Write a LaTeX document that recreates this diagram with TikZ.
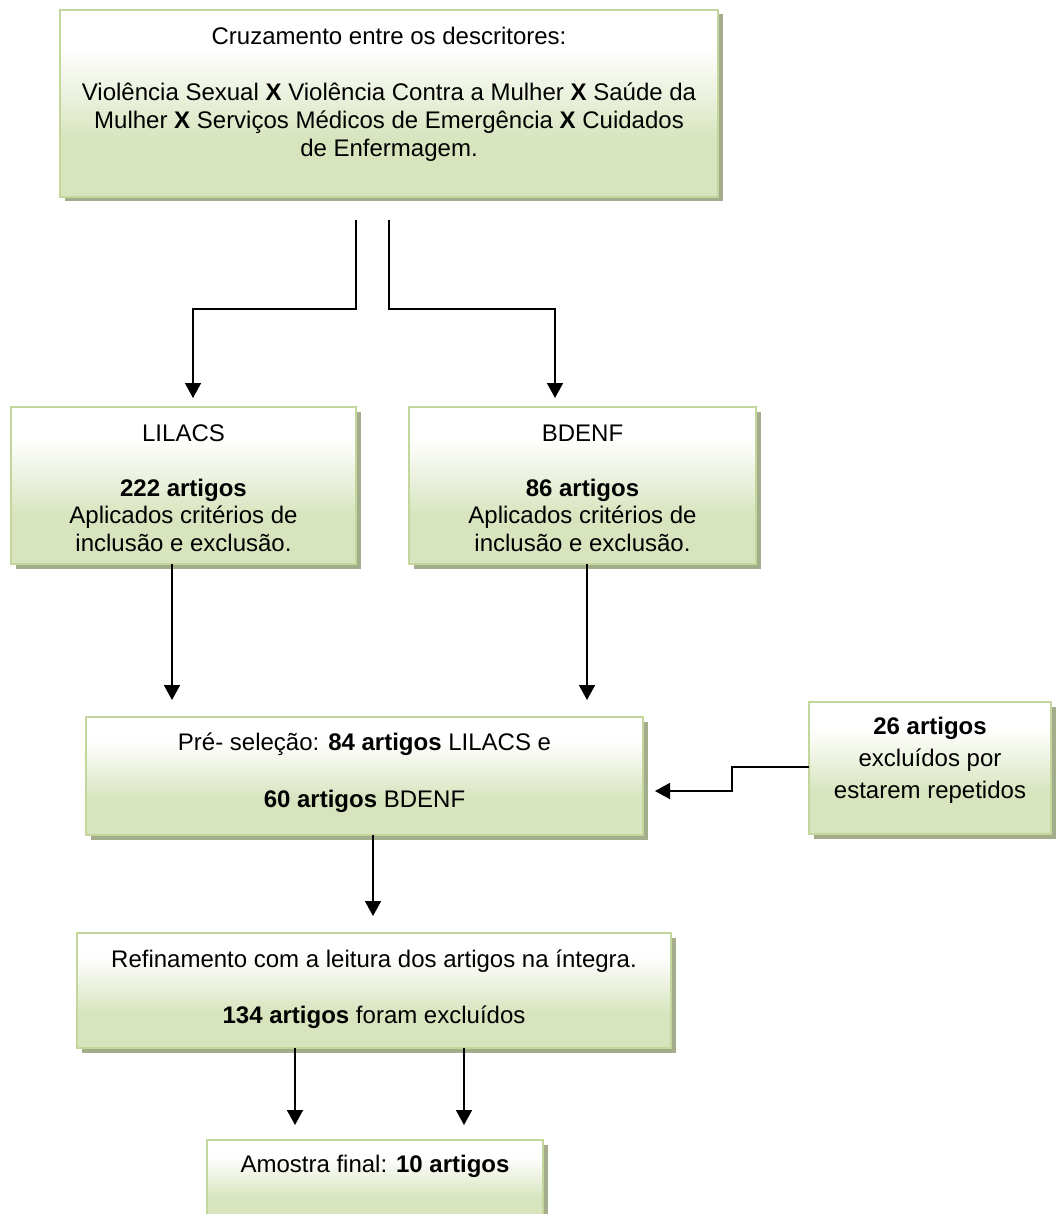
\documentclass[tikz,border=0pt]{standalone}
\usepackage{fontspec}
\setmainfont{Liberation Sans}
\usetikzlibrary{arrows.meta,shadows}
\definecolor{bordc}{HTML}{C3D69B}
\definecolor{fillc}{HTML}{D7E4BD}
\definecolor{shadc}{HTML}{A3AC8B}
\pgfdeclareverticalshading{boxshade}{100bp}{color(0bp)=(fillc); color(40bp)=(fillc); color(65bp)=(white); color(100bp)=(white)}
\tikzset{
  box/.style={draw=bordc, line width=2pt, shade, shading=boxshade,
    drop shadow={shadow xshift=5pt, shadow yshift=-4.5pt, fill=shadc, opacity=1},
    inner sep=0pt, outer sep=0pt, anchor=north west},
  txt/.style={font=\fontsize{24}{27.6}\selectfont, align=center, anchor=base, inner sep=0pt},
  arr/.style={line width=1.6pt, -{Triangle[width=16pt,length=15pt]}}
}
\begin{document}
\begin{tikzpicture}[x=1pt,y=-1pt]
\useasboundingbox (0,0) rectangle (1056,1214);
\clip (0,0) rectangle (1056,1214);
% boxes
\node[box, minimum width=658pt, minimum height=187pt] (top) at (60,10) {};
\node[box, minimum width=345pt, minimum height=157pt] (lil) at (11,407) {};
\node[box, minimum width=347pt, minimum height=157pt] (bd) at (409,407) {};
\node[box, minimum width=557pt, minimum height=118pt] (pre) at (86,717) {};
\node[box, minimum width=242pt, minimum height=132pt] (ex) at (809,702) {};
\node[box, minimum width=594pt, minimum height=115pt] (ref) at (77,933) {};
\node[box, minimum width=336pt, minimum height=84pt] (fin) at (207,1140) {};
% texts (anchored at the baseline of their last line)
\node[txt] (topT) at (389,156.2) {Cruzamento entre os descritores:\\[28.4pt]
  Violência Sexual \textbf{X} Violência Contra a Mulher \textbf{X} Saúde da\\
  Mulher \textbf{X} Serviços Médicos de Emergência \textbf{X} Cuidados\\
  de Enfermagem.};
\node[txt] (lilT) at (183.5,551.2) {LILACS\\[27.4pt] \textbf{222 artigos}\\ Aplicados critérios de\\ inclusão e exclusão.};
\node[txt] (bdT) at (582.5,551.2) {BDENF\\[27.4pt] \textbf{86 artigos}\\ Aplicados critérios de\\ inclusão e exclusão.};
\node[txt] (preT) at (364.5,807.6) {Pré- seleção: \textbf{84 artigos} LILACS e\\[30pt] \textbf{60 artigos} BDENF};
\node[txt, font=\fontsize{24}{32}\selectfont] (exT) at (930,798) {\textbf{26 artigos}\\ excluídos por\\ estarem repetidos};
\node[txt] (refT) at (374,1023) {Refinamento com a leitura dos artigos na íntegra.\\[28.4pt] \textbf{134 artigos} foram excluídos};
\node[txt] (finT) at (375,1172) {Amostra final: \textbf{10 artigos}};
% connector points
\coordinate (a1s) at (356,220); \coordinate (a1m) at (356,309); \coordinate (a1e) at (193,398);
\coordinate (a2s) at (389,220); \coordinate (a2m) at (389,309); \coordinate (a2e) at (555,398);
\coordinate (a3e) at (172,700);
\coordinate (a4e) at (587,700);
\coordinate (a5m) at (732,767); \coordinate (a5e) at (655,791);
\coordinate (a6e) at (373,916);
\coordinate (a7e) at (295,1125);
\coordinate (a8e) at (464,1125);
% connectors
\draw[arr] (a1s) -- (a1m) -| (a1e);
\draw[arr] (a2s) -- (a2m) -| (a2e);
\draw[arr] (lil.south -| a3e) -- (a3e);
\draw[arr] (bd.south -| a4e) -- (a4e);
\draw[arr] (ex.west |- a5m) -- (a5m) |- (a5e);
\draw[arr] (pre.south -| a6e) -- (a6e);
\draw[arr] (ref.south -| a7e) -- (a7e);
\draw[arr] (ref.south -| a8e) -- (a8e);
\end{tikzpicture}
\end{document}
